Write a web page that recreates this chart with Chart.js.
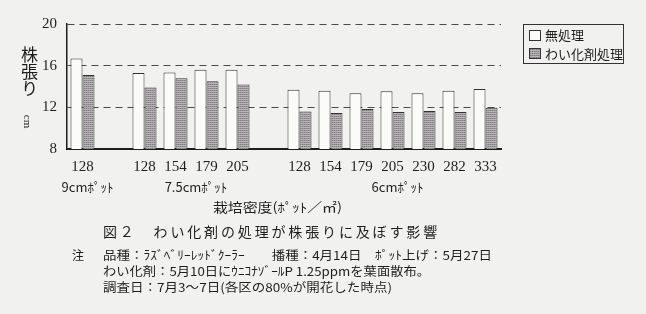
<!DOCTYPE html>
<html lang="ja">
<head>
<meta charset="UTF-8">
<title>わい化剤の処理が株張りに及ぼす影響</title>
<script src="https://cdn.jsdelivr.net/npm/chart.js"></script>
<style>
    html, body { margin: 0; padding: 0; }
    body {
        width: 646px; height: 314px; position: relative; overflow: hidden;
        background: #f1f1ef; color: #1e1e1e;
        font-family: "Noto Sans CJK JP", sans-serif;
    }
    #wrap { position: absolute; left: 0; top: 0; width: 646px; height: 314px; }
    .txt { position: absolute; white-space: nowrap; line-height: 1; transform-origin: 0 50%; }
    #ytitle { left: 21px; top: 46px; font-size: 17px; writing-mode: vertical-rl; }
    #yunit { left: 21px; top: 116px; font-size: 11px; font-family: "Liberation Serif", serif; transform: rotate(90deg); transform-origin: 50% 50%; }
    #xtitle { left: 213px; top: 200px; font-size: 13px; }
    #title { left: 103px; top: 224px; font-size: 14px; }
    .note { font-size: 12px; }
    .legend {
        position: absolute; left: 523px; top: 24px; width: 99px; height: 38px;
        border: 1px solid #333; font-size: 13px;
    }
    .legend .sw { position: absolute; left: 5px; width: 10px; height: 9px; border: 1px solid #333; }
    .legend .lb { position: absolute; left: 21px; line-height: 1; white-space: nowrap; }
</style>
</head>
<body>
<div id="wrap"><canvas id="chart" width="646" height="314"></canvas></div>

<div class="txt" id="ytitle">株張り</div>
<div class="txt" id="yunit">cm</div>

<div class="legend">
    <div class="sw" style="top:5px; background:#fbfbfa;"></div>
    <div class="lb" id="lb0" style="top:3px;"></div>
    <div class="sw" id="sw1" style="top:23px;"></div>
    <div class="lb" id="lb1" style="top:22px;"></div>
</div>

<div class="txt fit" id="xtitle" data-w="129">栽培密度(ﾎﾟｯﾄ／㎡)</div>
<div class="txt fit" id="title" data-w="337" data-mode="space">図２　わい化剤の処理が株張りに及ぼす影響</div>
<div class="txt note" style="left:72px; top:249px;">注</div>
<div class="txt note fit" style="left:103px; top:249px;" data-w="389">品種：ﾗｽﾞﾍﾞﾘｰﾚｯﾄﾞｸｰﾗｰ　　播種：4月14日　ﾎﾟｯﾄ上げ：5月27日</div>
<div class="txt note fit" style="left:103px; top:265px;" data-w="327">わい化剤：5月10日にｳﾆｺﾅｿﾞｰﾙP 1.25ppmを葉面散布。</div>
<div class="txt note fit" style="left:103px; top:281px;" data-w="289">調査日：7月3～7日(各区の80%が開花した時点)</div>

<script>
    // data (empty strings / nulls are the gaps between pot sizes)
    const categories = ['128', '', '128', '154', '179', '205', '', '128', '154', '179', '205', '230', '282', '333'];
    const untreated = [16.7, null, 15.3, 15.35, 15.6, 15.6, null, 13.7, 13.6, 13.35, 13.55, 13.35, 13.6, 13.75];
    const treated = [15.1, null, 13.9, 14.8, 14.5, 14.2, null, 11.6, 11.45, 11.85, 11.55, 11.65, 11.55, 11.95];
    const yTicks = [8, 12, 16, 20];
    const seriesNames = ['無処理', 'わい化剤処理'];
    const groupLabels = ['9cmﾎﾟｯﾄ', '7.5cmﾎﾟｯﾄ', '6cmﾎﾟｯﾄ'];
    const groupFirst = [0, 2, 7];
    const groupLast = [0, 5, 13];

    // screen-tone fill for the treated bars
    function makeTone() {
        const c = document.createElement('canvas');
        c.width = 2; c.height = 2;
        const g = c.getContext('2d');
        g.fillStyle = '#7e7c7e'; g.fillRect(0, 0, 2, 1);
        g.fillStyle = '#b8b4b8'; g.fillRect(0, 1, 2, 1);
        g.fillStyle = '#9a969a'; g.fillRect(1, 0, 1, 1);
        return c;
    }
    const toneCanvas = makeTone();
    const tone = document.getElementById('chart').getContext('2d').createPattern(toneCanvas, 'repeat');

    document.getElementById('lb0').textContent = seriesNames[0];
    document.getElementById('lb1').textContent = seriesNames[1];
    document.getElementById('sw1').style.background = 'url(' + toneCanvas.toDataURL() + ')';

    // pot size labels under the density ticks
    const groupLabelPlugin = {
        id: 'groupLabels',
        afterDraw(chart) {
            const ctx = chart.ctx;
            const x = chart.scales.x;
            ctx.save();
            ctx.font = '13px "Noto Sans CJK JP"';
            ctx.fillStyle = '#1e1e1e';
            ctx.textAlign = 'center';
            ctx.textBaseline = 'middle';
            groupLabels.forEach((lab, i) => {
                const cx = (x.getPixelForValue(groupFirst[i]) + x.getPixelForValue(groupLast[i])) / 2;
                ctx.fillText(lab, cx + 5, 187);
            });
            ctx.restore();
        }
    };

    new Chart(document.getElementById('chart'), {
        type: 'bar',
        data: {
            labels: categories,
            datasets: [
                {
                    label: seriesNames[0],
                    data: untreated,
                    backgroundColor: '#fbfbfa',
                    borderColor: '#333',
                    borderWidth: 1
                },
                {
                    label: seriesNames[1],
                    data: treated,
                    backgroundColor: tone,
                    borderColor: '#333',
                    borderWidth: 1
                }
            ]
        },
        options: {
            responsive: false,
            animation: false,
            layout: { padding: { top: 24, right: 145, left: 0, bottom: 0 } },
            datasets: { bar: { barPercentage: 1, categoryPercentage: 0.774 } },
            plugins: { legend: { display: false }, tooltip: { enabled: false } },
            scales: {
                x: {
                    grid: { display: false, drawTicks: false },
                    border: { display: true, color: '#1e1e1e', width: 2 },
                    ticks: {
                        color: '#1e1e1e', padding: 9, maxRotation: 0, autoSkip: false,
                        font: { family: 'Liberation Serif', size: 15 }
                    },
                    afterFit(scale) { scale.height = 165; }
                },
                y: {
                    min: 8, max: 20,
                    afterBuildTicks(scale) { scale.ticks = yTicks.map(v => ({ value: v })); },
                    grid: { color: '#4a4a4a', lineWidth: 1, drawTicks: false },
                    border: { display: true, color: '#1e1e1e', width: 1.5, dash: [7, 5] },
                    ticks: {
                        color: '#1e1e1e', padding: 10,
                        font: { family: 'Liberation Serif', size: 15 }
                    },
                    afterFit(scale) { scale.width = 67; }
                }
            }
        },
        plugins: [groupLabelPlugin]
    });

    // squeeze or space the caption lines to the widths in the figure
    document.querySelectorAll('.fit').forEach(el => {
        const w = +el.dataset.w;
        const nat = el.getBoundingClientRect().width;
        if (el.dataset.mode === 'space') {
            const n = el.textContent.length;
            el.style.letterSpacing = ((w - nat) / n) + 'px';
        } else {
            el.style.transform = 'scaleX(' + (w / nat) + ')';
        }
    });
</script>
</body>
</html>
